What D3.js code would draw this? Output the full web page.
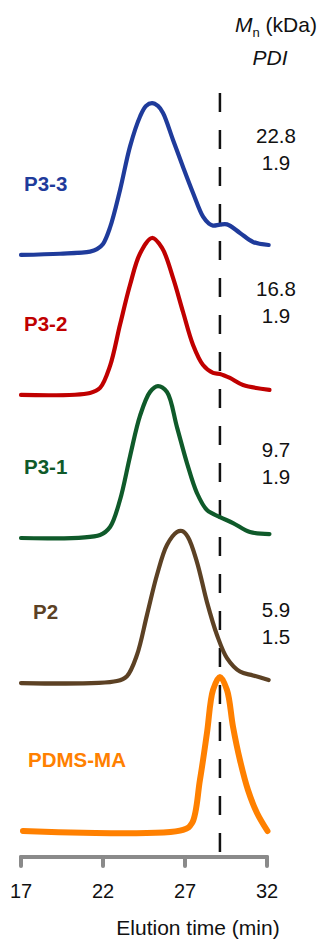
<!DOCTYPE html>
<html><head><meta charset="utf-8">
<script src="https://cdn.jsdelivr.net/npm/d3@7"></script>
<style>html,body{margin:0;padding:0;background:#fff;}svg{display:block;font-family:"Liberation Sans",Arial,sans-serif;}</style>
</head><body>
<svg id="chart" width="321" height="939"></svg>
<script>
// ---- data ----
const seriesNames = ["P3-3", "P3-2", "P3-1", "P2", "PDMS-MA"];
const seriesColors = ["#1f3b9b", "#c00000", "#0f5a2a", "#5c4124", "#ff8000"];
const seriesOffsets = [3.765, 2.85, 1.915, 0.967, 0];
const mnValues = ["22.8", "16.8", "9.7", "5.9"];
const pdiValues = ["1.9", "1.9", "1.9", "1.5"];
const xTicks = [17, 22, 27, 32];
const refTime = 29.13;

const timeP33 = [17.00, 19.38, 21.21, 21.63, 22.00, 22.43, 23.04, 23.65, 24.26, 24.62, 24.99, 25.35, 25.66, 26.27, 26.88, 27.49, 28.10, 28.46, 28.71, 29.13, 29.56, 30.35, 31.15, 32.10];
const valP33  = [0, 0.008, 0.022, 0.038, 0.072, 0.180, 0.425, 0.710, 0.905, 0.974, 0.993, 0.974, 0.928, 0.752, 0.575, 0.405, 0.250, 0.205, 0.192, 0.198, 0.200, 0.144, 0.085, 0.065];

const timeP32 = [17.00, 21.21, 21.82, 22.43, 23.04, 23.65, 24.26, 24.99, 25.60, 26.27, 26.88, 27.49, 28.10, 28.71, 29.13, 29.74, 30.54, 32.15];
const valP32  = [0, 0.013, 0.046, 0.190, 0.460, 0.720, 0.925, 1.026, 0.961, 0.765, 0.542, 0.327, 0.196, 0.144, 0.137, 0.111, 0.065, 0.033];

const timeP31 = [17.00, 21.82, 22.43, 23.04, 23.65, 24.26, 24.87, 25.35, 25.90, 26.51, 27.12, 27.73, 28.34, 29.13, 29.93, 30.96, 32.15];
const valP31  = [0, 0.020, 0.072, 0.250, 0.535, 0.800, 0.955, 0.993, 0.954, 0.725, 0.490, 0.294, 0.183, 0.137, 0.098, 0.039, 0.026];

const timeP2 = [17.00, 22.85, 23.46, 24.07, 24.68, 25.29, 25.90, 26.51, 26.82, 27.18, 27.73, 28.34, 28.95, 29.56, 30.35, 31.15, 32.10];
const valP2  = [0, 0.013, 0.045, 0.183, 0.444, 0.706, 0.902, 0.987, 0.993, 0.954, 0.791, 0.529, 0.314, 0.163, 0.075, 0.050, 0.020];

const timePDMS = [17.12, 26.88, 27.43, 27.91, 28.34, 28.71, 29.13, 29.56, 29.93, 30.35, 30.84, 31.39, 32.03];
const valPDMS  = [0, 0.007, 0.052, 0.333, 0.641, 0.922, 1.007, 0.922, 0.680, 0.464, 0.268, 0.118, 0.0];

const seriesTimes = [timeP33, timeP32, timeP31, timeP2, timePDMS];
const seriesVals = [valP33, valP32, valP31, valP2, valPDMS];

// ---- layout ----
const svg = d3.select("#chart");
const x = d3.scaleLinear().domain([17, 32]).range([21, 267]);
const y = d3.scaleLinear().domain([0, 5]).range([831, 66]);
const axisY = 857;
const line = d3.line().x(d => x(d[0])).y(d => y(d[1])).curve(d3.curveCatmullRom.alpha(0.5));

// dashed reference line
svg.append("line")
  .attr("x1", x(refTime)).attr("x2", x(refTime))
  .attr("y1", 93).attr("y2", axisY)
  .attr("stroke", "#111").attr("stroke-width", 2.5)
  .attr("stroke-dasharray", "19,18");

// curves
seriesNames.forEach((name, i) => {
  const pts = seriesTimes[i].map((t, j) => [t, seriesVals[i][j] + seriesOffsets[i]]);
  svg.append("path").datum(pts)
    .attr("d", line)
    .attr("fill", "none")
    .attr("stroke", seriesColors[i])
    .attr("stroke-width", i === 4 ? 6 : 4.2)
    .attr("stroke-linecap", "round")
    .attr("stroke-linejoin", "round");
});

// series labels
const labelX = [24, 24, 24, 33, 28];
seriesNames.forEach((name, i) => {
  svg.append("text")
    .attr("x", labelX[i]).attr("y", y(seriesOffsets[i] + 0.42))
    .attr("fill", seriesColors[i])
    .attr("font-size", 20.5).attr("font-weight", "bold")
    .text(name);
});

// Mn / PDI values
const numY = [143, 296, 457, 617];
mnValues.forEach((v, i) => {
  svg.append("text").attr("x", 276).attr("y", numY[i])
    .attr("text-anchor", "middle").attr("font-size", 20.5).attr("fill", "#111").text(v);
  svg.append("text").attr("x", 276).attr("y", numY[i] + 27)
    .attr("text-anchor", "middle").attr("font-size", 20.5).attr("fill", "#111").text(pdiValues[i]);
});

// header
const hdr = svg.append("text").attr("x", 235).attr("y", 32).attr("font-size", 21).attr("fill", "#111");
hdr.append("tspan").attr("font-style", "italic").text("M");
hdr.append("tspan").attr("font-size", 13).attr("dy", 5).text("n");
hdr.append("tspan").attr("dy", -5).text(" (kDa)");
svg.append("text").attr("x", 270).attr("y", 65).attr("text-anchor", "middle")
  .attr("font-size", 21).attr("font-style", "italic").attr("fill", "#111").text("PDI");

// x axis
const ax = svg.append("g").attr("transform", `translate(0,${axisY})`);
ax.append("line").attr("x1", x(17)).attr("x2", x(32)).attr("y1", 0).attr("y2", 0)
  .attr("stroke", "#8a8a8a").attr("stroke-width", 4).attr("stroke-linecap", "round");
ax.selectAll(".tk").data(xTicks).join("line")
  .attr("x1", d => x(d)).attr("x2", d => x(d)).attr("y1", 0).attr("y2", 9)
  .attr("stroke", "#8a8a8a").attr("stroke-width", 4).attr("stroke-linecap", "round");
ax.selectAll(".tl").data(xTicks).join("text")
  .attr("x", d => x(d)).attr("y", 41).attr("text-anchor", "middle")
  .attr("font-size", 20).attr("fill", "#111").text(d => d);
svg.append("text").attr("x", 198).attr("y", 935).attr("text-anchor", "middle")
  .attr("font-size", 21).attr("fill", "#111").text("Elution time (min)");
</script>
</body></html>
